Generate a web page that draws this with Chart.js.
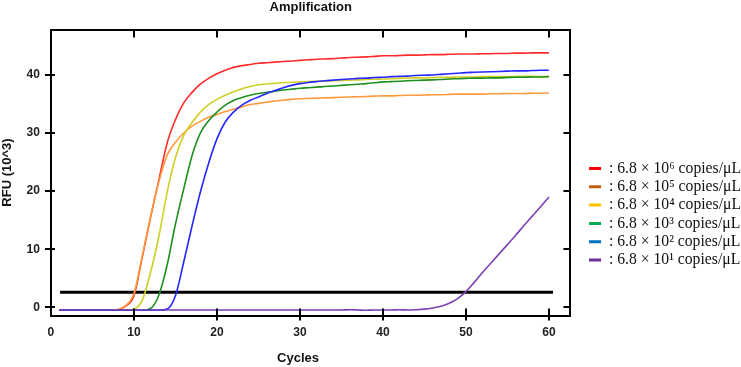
<!DOCTYPE html>
<html>
<head>
<meta charset="utf-8">
<script src="https://cdn.jsdelivr.net/npm/chart.js@4"></script>
<style>
  html, body { margin: 0; padding: 0; background: #fff; }
  #wrap { width: 741px; height: 367px; position: relative; }
</style>
</head>
<body>
<div id="wrap"><canvas id="ampChart"></canvas></div>
<script>
const cycles = [1,2,3,4,5,6,7,8,9,10,11,12,13,14,15,16,17,18,19,20,
  21,22,23,24,25,26,27,28,29,30,31,32,33,34,35,36,37,38,39,40,
  41,42,43,44,45,46,47,48,49,50,51,52,53,54,55,56,57,58,59,60];

const rfu_e6 = [-0.5,-0.5,-0.5,-0.5,-0.5,-0.5,-0.5,-0.4,0.2,2.0,
  8.6,15.5,21.9,28.3,32.3,35.2,37.0,38.4,39.4,40.2,
  40.8,41.3,41.6,41.8,42.0,42.1,42.2,42.3,42.4,42.5,
  42.6,42.7,42.75,42.8,42.9,43.0,43.05,43.1,43.2,43.3,
  43.3,43.35,43.4,43.4,43.45,43.5,43.5,43.55,43.6,43.6,
  43.6,43.65,43.65,43.7,43.7,43.75,43.75,43.8,43.8,43.8];

const rfu_e5 = [-0.5,-0.5,-0.5,-0.5,-0.5,-0.5,-0.5,-0.4,0.3,2.4,
  8.8,15.6,21.6,26.2,28.4,30.0,31.2,32.0,32.7,33.2,
  33.7,34.1,34.5,34.9,35.1,35.3,35.5,35.65,35.8,35.9,
  35.95,36.0,36.05,36.1,36.15,36.2,36.25,36.3,36.35,36.4,
  36.4,36.45,36.5,36.5,36.55,36.6,36.6,36.65,36.7,36.7,
  36.7,36.7,36.75,36.75,36.8,36.8,36.8,36.85,36.85,36.9];

const rfu_e4 = [-0.5,-0.5,-0.5,-0.5,-0.5,-0.5,-0.5,-0.5,-0.5,-0.3,
  1.2,6.0,12.2,19.8,25.8,29.6,31.8,33.6,34.9,35.8,
  36.5,37.1,37.6,38.0,38.3,38.45,38.55,38.65,38.75,38.8,
  38.85,38.9,38.95,39.0,39.05,39.1,39.15,39.2,39.25,39.3,
  39.35,39.4,39.45,39.5,39.5,39.55,39.6,39.6,39.65,39.65,
  39.65,39.7,39.7,39.7,39.7,39.75,39.75,39.75,39.7,39.7];

const rfu_e3 = [-0.5,-0.5,-0.5,-0.5,-0.5,-0.5,-0.5,-0.5,-0.5,-0.5,
  -0.5,-0.2,2.1,7.3,14.3,20.4,26.1,30.0,32.1,33.6,
  34.8,35.6,36.1,36.5,36.8,37.0,37.2,37.4,37.55,37.7,
  37.8,37.9,38.0,38.1,38.2,38.3,38.4,38.5,38.65,38.8,
  38.85,38.9,39.0,39.05,39.1,39.15,39.2,39.3,39.35,39.4,
  39.45,39.45,39.5,39.5,39.55,39.6,39.6,39.65,39.65,39.7];

const rfu_e2 = [-0.5,-0.5,-0.5,-0.5,-0.5,-0.5,-0.5,-0.5,-0.5,-0.5,
  -0.5,-0.5,-0.5,-0.3,2.0,7.8,14.0,19.8,24.8,29.0,
  31.9,33.6,34.8,35.6,36.2,36.8,37.3,37.8,38.2,38.5,
  38.7,38.85,39.0,39.1,39.2,39.3,39.4,39.45,39.55,39.6,
  39.7,39.75,39.8,39.9,39.95,40.0,40.1,40.2,40.3,40.4,
  40.45,40.5,40.55,40.6,40.65,40.7,40.7,40.75,40.8,40.8];

const rfu_e1 = [-0.45,-0.45,-0.45,-0.45,-0.45,-0.45,-0.45,-0.45,-0.45,-0.45,
  -0.45,-0.45,-0.45,-0.45,-0.45,-0.45,-0.45,-0.45,-0.45,-0.45,
  -0.45,-0.45,-0.45,-0.45,-0.45,-0.45,-0.45,-0.45,-0.45,-0.45,
  -0.45,-0.45,-0.45,-0.45,-0.45,-0.4,-0.45,-0.5,-0.45,-0.45,
  -0.45,-0.4,-0.45,-0.4,-0.3,-0.1,0.2,0.7,1.5,2.7,
  4.3,6.0,7.6,9.2,10.8,12.4,14.1,15.7,17.3,19.0];

const thresholdX = [1.1, 60.5];
const thresholdY = [2.6, 2.6];

const seriesLabels = [
  ': 6.8 × 10\u2076 copies/μL',
  ': 6.8 × 10\u2075 copies/μL',
  ': 6.8 × 10\u2074 copies/μL',
  ': 6.8 × 10\u00B3 copies/μL',
  ': 6.8 × 10\u00B2 copies/μL',
  ': 6.8 × 10\u00B9 copies/μL'
];
const lineColors = ['#ff2b2b', '#ff9a3c', '#cfcf25', '#1f8f1f', '#2626ff', '#7a40b4'];
const legendColors = ['#ff0000', '#c55a11', '#ffc000', '#00b050', '#0070c0', '#7030a0'];
const seriesValues = [rfu_e6, rfu_e5, rfu_e4, rfu_e3, rfu_e2, rfu_e1];

const toPoints = (xs, ys) => xs.map((x, i) => ({x: x, y: ys[i]}));

const datasets = seriesValues.map((vals, i) => ({
  label: seriesLabels[i],
  data: toPoints(cycles, vals),
  borderColor: lineColors[i],
  backgroundColor: legendColors[i],
  borderWidth: 1.6,
  pointRadius: 0,
  cubicInterpolationMode: 'monotone',
  xAxisID: 'x',
  yAxisID: 'y'
}));
// draw order: purple under the others, like the reference
datasets.reverse();

datasets.push({
  label: 'threshold',
  data: toPoints(thresholdX, thresholdY),
  borderColor: '#000',
  borderWidth: 3,
  pointRadius: 0,
  xAxisID: 'x',
  yAxisID: 'y'
});

// small tick marks all round the frame (in/out like the instrument plot)
const frameTicks = {
  id: 'frameTicks',
  afterDraw(chart) {
    const {ctx, chartArea: a} = chart;
    const sx = chart.scales.x, sy = chart.scales.y;
    ctx.save();
    ctx.strokeStyle = '#000';
    ctx.lineWidth = 2;
    ctx.beginPath();
    sx.ticks.forEach(t => {
      if (t.value === 0) return;
      const px = Math.round(sx.getPixelForValue(t.value));
      ctx.moveTo(px, a.bottom - 7); ctx.lineTo(px, a.bottom + 5);
      ctx.moveTo(px, a.top); ctx.lineTo(px, a.top + 8);
    });
    sy.ticks.forEach(t => {
      const py = Math.round(sy.getPixelForValue(t.value));
      ctx.moveTo(a.left - 6, py); ctx.lineTo(a.left + 4, py);
      ctx.moveTo(a.right - 7, py); ctx.lineTo(a.right, py);
    });
    ctx.stroke();
    ctx.restore();
  }
};

const sans = 'Liberation Sans, Arial, sans-serif';

new Chart(document.getElementById('ampChart'), {
  type: 'line',
  data: { datasets: datasets },
  plugins: [frameTicks],
  options: {
    responsive: true,
    maintainAspectRatio: false,
    animation: false,
    layout: { padding: { top: 0, bottom: 0.5, left: 0, right: -10 } },
    plugins: {
      title: {
        display: true,
        text: 'Amplification',
        fullSize: false,
        color: '#111',
        font: { family: sans, size: 13, weight: 'bold' },
        padding: { top: 0, bottom: 12 }
      },
      legend: {
        position: 'right',
        reverse: true,
        maxWidth: 240,
        title: { display: true, text: ' ', font: { size: 10 }, padding: { top: 50, bottom: 0 } },
        labels: {
          boxWidth: 12,
          boxHeight: 3,
          padding: 2.6,
          color: '#111',
          font: { family: 'Liberation Serif, Times New Roman, serif', size: 15.7 },
          filter: item => item.text !== 'threshold',
          generateLabels: chart => Chart.defaults.plugins.legend.labels.generateLabels(chart).map(item => {
            item.fillStyle = chart.data.datasets[item.datasetIndex].backgroundColor;
            item.strokeStyle = item.fillStyle;
            item.lineWidth = 0;
            return item;
          })
        }
      },
      tooltip: { enabled: false }
    },
    scales: {
      x: {
        type: 'linear',
        position: 'bottom',
        min: 0,
        max: 62.6,
        grid: { display: false, drawTicks: false },
        border: { display: true, color: '#000', width: 2 },
        ticks: {
          stepSize: 10,
          includeBounds: false,
          padding: 10,
          color: '#222',
          font: { family: sans, size: 12, weight: 'bold' }
        },
        title: {
          display: true,
          // trailing spaces nudge the label left of centre, as in the original
          text: 'Cycles       ',
          color: '#111',
          font: { family: sans, size: 13, weight: 'bold' },
          padding: { top: 1, bottom: 0 }
        }
      },
      xTop: {
        type: 'linear',
        position: 'top',
        min: 0,
        max: 62.6,
        grid: { display: false, drawTicks: false },
        border: { display: true, color: '#000', width: 2 },
        ticks: { display: false },
        afterFit: s => { s.height = 2; }
      },
      y: {
        type: 'linear',
        position: 'left',
        min: -1.4,
        max: 47.8,
        grid: { display: false, drawTicks: false },
        border: { display: true, color: '#000', width: 2 },
        ticks: {
          stepSize: 10,
          includeBounds: false,
          padding: 11,
          color: '#222',
          font: { family: sans, size: 12, weight: 'bold' }
        },
        title: {
          display: true,
          text: 'RFU (10^3)',
          color: '#111',
          font: { family: sans, size: 13, weight: 'bold' },
          padding: { top: 0, bottom: 0 }
        }
      },
      yRight: {
        type: 'linear',
        position: 'right',
        min: -1.4,
        max: 47.8,
        grid: { display: false, drawTicks: false },
        border: { display: true, color: '#000', width: 2 },
        ticks: { display: false },
        afterFit: s => { s.width = 16; }
      }
    }
  }
});
</script>
</body>
</html>
